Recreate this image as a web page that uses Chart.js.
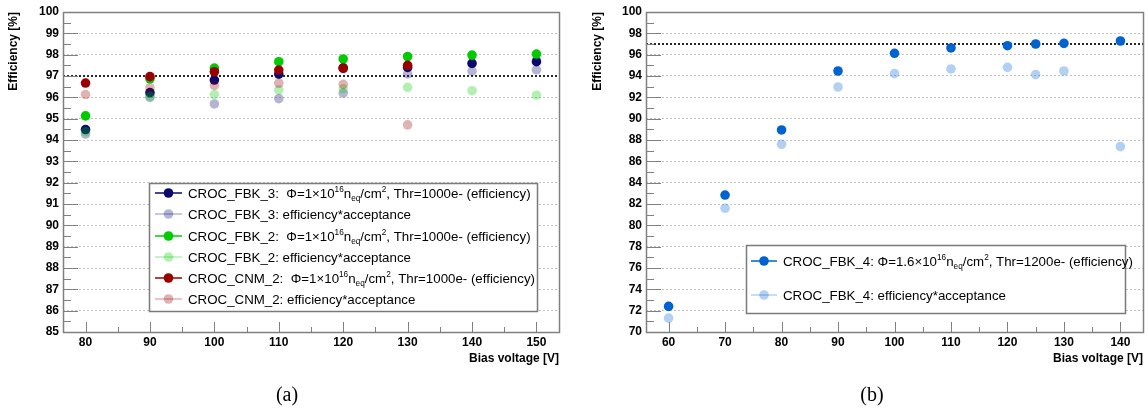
<!DOCTYPE html>
<html>
<head>
<meta charset="utf-8">
<script src="https://cdn.jsdelivr.net/npm/chart.js@4/dist/chart.umd.min.js"></script>
<style>
  body { margin: 0; background: #fff; width: 1148px; height: 410px; overflow: hidden; position: relative; }
  canvas { position: absolute; top: 0; }
  #eff-a { left: 0; }
  #eff-b { left: 580px; }
  .caption { position: absolute; top: 383px; width: 60px; text-align: center; font: 20px "Liberation Serif", "Times New Roman", serif; }
</style>
</head>
<body>
<canvas id="eff-a" width="580" height="410"></canvas>
<canvas id="eff-b" width="568" height="410"></canvas>
<div class="caption" style="left:257px">(a)</div>
<div class="caption" style="left:842px">(b)</div>
<script>
// Panel (a): bias scans at 1e16 neq/cm2, threshold 1000e-
const voltageA = [80, 90, 100, 110, 120, 130, 140, 150];
const voltageCnm = [80, 90, 100, 110, 120, 130];
const fbk3Eff = [94.49, 96.22, 96.81, 97.09, 97.38, 97.40, 97.59, 97.67];
const fbk3Acc = [94.28, 96.00, 95.69, 95.94, 96.20, 97.10, 97.23, 97.29];
const fbk2Eff = [95.13, 96.87, 97.37, 97.67, 97.80, 97.91, 97.98, 98.03];
const fbk2Acc = [94.38, 96.05, 96.13, 96.35, 96.40, 96.47, 96.31, 96.10];
const cnm2Eff = [96.67, 96.97, 97.20, 97.28, 97.36, 97.50];
const cnm2Acc = [96.13, 96.45, 96.56, 96.66, 96.61, 94.71];
const xTicksA = [80, 90, 100, 110, 120, 130, 140, 150];
const yTicksA = [85, 86, 87, 88, 89, 90, 91, 92, 93, 94, 95, 96, 97, 98, 99, 100];

// Panel (b): CROC_FBK_4 at 1.6e16 neq/cm2, threshold 1200e-
const voltageB = [60, 70, 80, 90, 100, 110, 120, 125, 130, 140];
const fbk4Eff = [72.40, 82.84, 88.94, 94.47, 96.13, 96.63, 96.84, 97.00, 97.06, 97.28];
const fbk4Acc = [71.30, 81.60, 87.60, 92.97, 94.22, 94.66, 94.81, 94.13, 94.47, 87.38];
const xTicksB = [60, 70, 80, 90, 100, 110, 120, 130, 140];
const yTicksB = [70, 72, 74, 76, 78, 80, 82, 84, 86, 88, 90, 92, 94, 96, 98, 100];

const threshold = 97;

// legend strings as [text, 'sup' | 'sub' | undefined]
const phi16 = (pre, flu, thr) => [[pre + '\u03A6=' + flu + '\u00D710'], ['16', 'sup'], ['n'], ['eq', 'sub'], ['/cm'], ['2', 'sup'], [', Thr=' + thr + 'e- (efficiency)']];
const labelFbk3 = phi16('CROC_FBK_3:  ', '1', '1000');
const labelFbk2 = phi16('CROC_FBK_2:  ', '1', '1000');
const labelCnm2 = phi16('CROC_CNM_2:  ', '1', '1000');
const labelFbk4 = phi16('CROC_FBK_4: ', '1.6', '1200');
const accLabel = name => [[name + ': efficiency*acceptance']];

const SANS = '"Liberation Sans", Arial, Helvetica, sans-serif';
const tickFont = { family: SANS, weight: 'bold', size: 12 };

function series(xs, ys, color, legend, i) {
    return {
        data: xs.map((x, k) => ({ x: x, y: ys[k] })),
        backgroundColor: color,
        borderWidth: 0,
        pointRadius: 4.8,
        pointHoverRadius: 4.8,
        legendText: legend,
        order: -i   // later entries are painted on top
    };
}

function drawRich(ctx, parts, x, y, size) {
    for (const [text, kind] of parts) {
        const s = kind ? size * 0.62 : size;
        const dy = kind === 'sup' ? -size * 0.42 : kind === 'sub' ? size * 0.25 : 0;
        ctx.font = s + 'px ' + SANS;
        ctx.fillText(text, x, y + dy);
        x += ctx.measureText(text).width;
    }
}

// ROOT-like frame: inner ticks, threshold line, boxed legend
const rootFrame = {
    id: 'rootFrame',
    beforeDatasetsDraw(chart, args, opts) {
        const { ctx, chartArea: a, scales } = chart;
        const py = Math.round(scales.y.getPixelForValue(threshold));
        ctx.save();
        ctx.strokeStyle = '#2a2a2a';
        ctx.lineWidth = 2;
        ctx.setLineDash([2, 2]);
        ctx.beginPath();
        ctx.moveTo(a.left, py);
        ctx.lineTo(a.right, py);
        ctx.stroke();
        ctx.restore();
    },
    afterDatasetsDraw(chart, args, opts) {
        const { ctx, chartArea: a, scales: { x, y } } = chart;
        ctx.save();
        ctx.strokeStyle = '#808080';
        ctx.lineWidth = 1;

        const yt = opts.yTicks, xt = opts.xTicks;
        ctx.beginPath();
        yt.forEach((v, k) => {
            const p = Math.round(y.getPixelForValue(v)) + 0.5;
            ctx.moveTo(a.left, p); ctx.lineTo(a.left + 15, p);
            if (k < yt.length - 1) {
                const m = Math.round(y.getPixelForValue((v + yt[k + 1]) / 2)) + 0.5;
                ctx.moveTo(a.left, m); ctx.lineTo(a.left + 8, m);
            }
        });
        xt.forEach((v, k) => {
            const p = Math.round(x.getPixelForValue(v)) + 0.5;
            ctx.moveTo(p, a.bottom); ctx.lineTo(p, a.bottom - 10);
            if (k < xt.length - 1) {
                const m = Math.round(x.getPixelForValue((v + xt[k + 1]) / 2)) + 0.5;
                ctx.moveTo(m, a.bottom); ctx.lineTo(m, a.bottom - 5);
            }
        });
        ctx.stroke();

        ctx.lineWidth = 1.5;
        ctx.strokeRect(a.left + 0.5, a.top + 0.5, a.right - a.left, a.bottom - a.top);

        // legend
        const lg = opts.legend;
        ctx.fillStyle = '#fff';
        ctx.fillRect(lg.box[0], lg.box[1], lg.box[2] - lg.box[0], lg.box[3] - lg.box[1]);
        ctx.strokeStyle = '#7a7a7a';
        ctx.lineWidth = 1.5;
        ctx.strokeRect(lg.box[0] + 0.5, lg.box[1] + 0.5, lg.box[2] - lg.box[0], lg.box[3] - lg.box[1]);
        chart.data.datasets.forEach((ds, k) => {
            const ry = lg.rows[k];
            ctx.strokeStyle = ds.backgroundColor;
            ctx.lineWidth = 1.5;
            ctx.beginPath();
            ctx.moveTo(lg.line[0], ry); ctx.lineTo(lg.line[1], ry);
            ctx.stroke();
            ctx.fillStyle = ds.backgroundColor;
            ctx.beginPath();
            ctx.arc((lg.line[0] + lg.line[1]) / 2, ry, 4.8, 0, Math.PI * 2);
            ctx.fill();
            ctx.fillStyle = '#000';
            ctx.textBaseline = 'alphabetic';
            drawRich(ctx, ds.legendText, lg.textX, ry + 5, lg.size);
        });
        ctx.restore();
    }
};

function axes(xMin, xMax, xTicks, yMin, yMax, yTicks, yWidth, titlePad) {
    return {
        x: {
            type: 'linear', min: xMin, max: xMax,
            afterBuildTicks: s => { s.ticks = xTicks.map(v => ({ value: v })); },
            afterFit: s => { s.height = 34; },
            grid: { display: false, drawTicks: false },
            border: { display: false },
            ticks: { color: '#000', font: tickFont, padding: 3, maxRotation: 0, autoSkip: false },
            title: { display: true, text: 'Bias voltage [V]', align: 'end', color: '#000', font: tickFont, padding: 0 }
        },
        y: {
            type: 'linear', min: yMin, max: yMax,
            afterBuildTicks: s => { s.ticks = yTicks.map(v => ({ value: v })); },
            afterFit: s => { s.width = yWidth; },
            grid: { color: '#c2c2c2', lineWidth: 1, drawTicks: false },
            border: { display: false, dash: [2, 2] },
            ticks: { color: '#000', font: tickFont, padding: 4, autoSkip: false },
            title: { display: true, text: 'Efficiency [%]', align: 'end', color: '#000', font: tickFont, padding: { top: titlePad, bottom: 0 } }
        }
    };
}

function makeChart(id, datasets, scales, padRight, frameOpts) {
    return new Chart(document.getElementById(id), {
        type: 'scatter',
        data: { datasets: datasets },
        options: {
            responsive: false,
            animation: false,
            devicePixelRatio: 1,
            layout: { padding: { left: 0, top: 12, right: padRight, bottom: 44 } },
            plugins: { legend: { display: false }, tooltip: { enabled: false }, rootFrame: frameOpts },
            scales: scales
        },
        plugins: [rootFrame]
    });
}

makeChart('eff-a', [
    series(voltageA, fbk3Eff, '#0a0a6e', labelFbk3, 0),
    series(voltageA, fbk3Acc, 'rgba(10, 10, 110, 0.3)', accLabel('CROC_FBK_3'), 1),
    series(voltageA, fbk2Eff, '#00cc00', labelFbk2, 2),
    series(voltageA, fbk2Acc, 'rgba(0, 204, 0, 0.3)', accLabel('CROC_FBK_2'), 3),
    series(voltageCnm, cnm2Eff, '#990000', labelCnm2, 4),
    series(voltageCnm, cnm2Acc, 'rgba(153, 0, 0, 0.3)', accLabel('CROC_CNM_2'), 5)
], axes(76.5, 153.5, xTicksA, 85, 100, yTicksA, 63, 6), 21, {
    xTicks: xTicksA, yTicks: yTicksA,
    legend: { box: [149, 183, 537, 311], rows: [193, 214, 236, 257, 278, 299], line: [155, 182], textX: 188, size: 13.3 }
});

makeChart('eff-b', [
    series(voltageB, fbk4Eff, '#0063cf', labelFbk4, 0),
    series(voltageB, fbk4Acc, 'rgba(0, 99, 207, 0.3)', accLabel('CROC_FBK_4'), 1)
], axes(56, 144, xTicksB, 70, 100, yTicksB, 66, 10), 5, {
    xTicks: xTicksB, yTicks: yTicksB,
    legend: { box: [166, 245, 545, 313], rows: [261, 295], line: [171, 197], textX: 203, size: 13.3 }
});
</script>
</body>
</html>
